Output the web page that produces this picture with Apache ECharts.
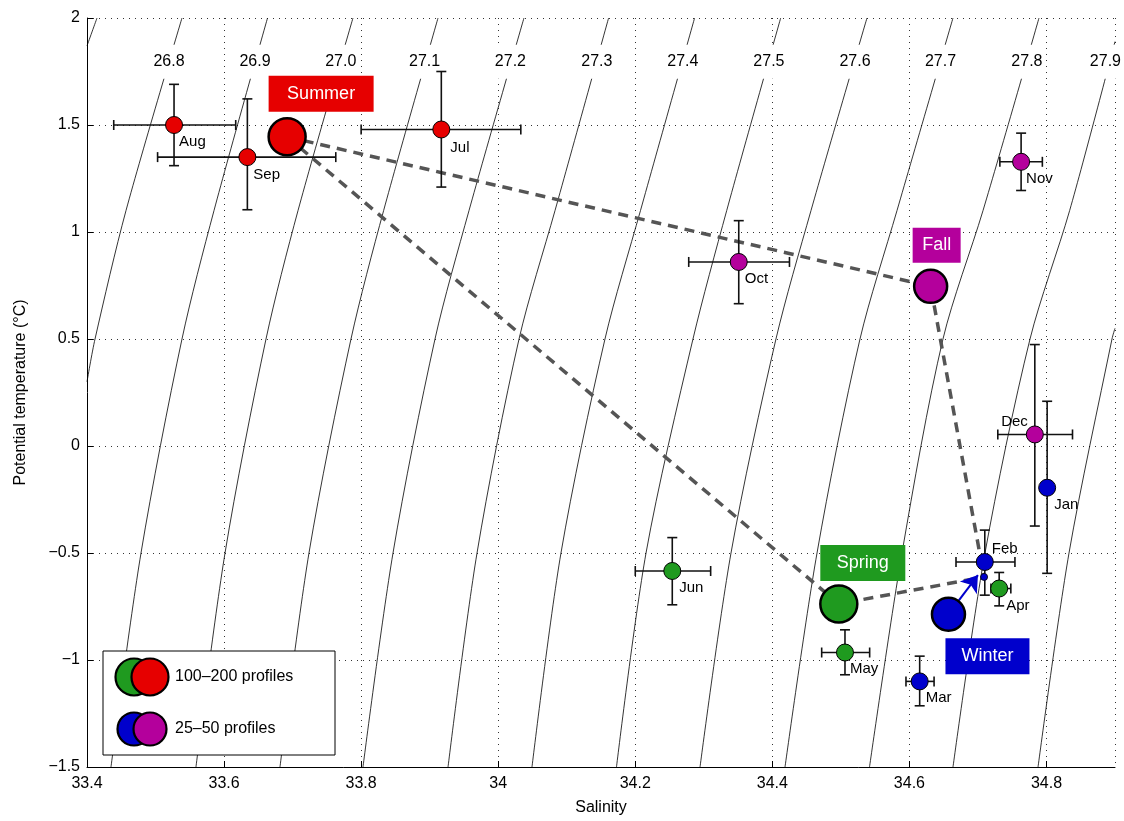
<!DOCTYPE html>
<html><head><meta charset="utf-8">
<script src="https://cdn.jsdelivr.net/npm/echarts@6/dist/echarts.min.js"></script>
<style>html,body{margin:0;padding:0;background:#fff}#c{width:1124px;height:821px}</style>
</head><body><div id="c"></div>
<script>
// ---------- data ----------
const months = ['Jan','Feb','Mar','Apr','May','Jun','Jul','Aug','Sep','Oct','Nov','Dec'];
const monthSeason = ['Winter','Winter','Winter','Spring','Spring','Spring','Summer','Summer','Summer','Fall','Fall','Fall'];
const monthS = [34.801, 34.710, 34.615, 34.731, 34.506, 34.254, 33.917, 33.527, 33.634, 34.351, 34.763, 34.783];
const monthT = [-0.195, -0.542, -1.100, -0.666, -0.965, -0.584, 1.479, 1.500, 1.350, 0.860, 1.328, 0.054];
const monthSLo = [null, 34.668, 34.595, 34.719, 34.472, 34.200, 33.800, 33.439, 33.503, 34.278, 34.732, 34.729];
const monthSHi = [null, 34.754, 34.636, 34.748, 34.542, 34.310, 34.033, 33.617, 33.763, 34.425, 34.794, 34.838];
const monthTLo = [-0.595, -0.697, -1.214, -0.747, -1.069, -0.742, 1.21, 1.31, 1.104, 0.665, 1.194, -0.374];
const monthTHi = [0.209, -0.393, -0.982, -0.591, -0.859, -0.428, 1.75, 1.69, 1.622, 1.053, 1.462, 0.474];

const seasons = ['Summer','Fall','Winter','Spring'];
const seasonS = [33.692, 34.631, 34.657, 34.497];
const seasonT = [1.445, 0.746, -0.786, -0.738];
const seasonGroup = ['100–200 profiles','25–50 profiles','25–50 profiles','100–200 profiles'];
const winterTrue = [34.709, -0.612];
const winterArrowTip = [34.700, -0.603];

// sigma-theta isopycnals, [salinity, temperature] points
const iso267 = [[33.4146, 2.0], [33.4, 1.87]];
const iso268 = [[33.5386, 2.0], [33.4569, 1.1], [33.4117, 0.5], [33.4, 0.3]];
const iso269 = [[33.6634, 2.0], [33.5853, 1.1], [33.5386, 0.5], [33.4788, -0.5], [33.4350, -1.5]];
const iso270 = [[33.7881, 2.0], [33.7079, 1.1], [33.6612, 0.5], [33.6014, -0.5], [33.5590, -1.5]];
const iso271 = [[33.9122, 2.0], [33.8328, 1.1], [33.7852, 0.5], [33.7239, -0.5], [33.6816, -1.5]];
const iso272 = [[34.0376, 2.0], [33.9574, 1.1], [33.9078, 0.5], [33.8465, -0.5], [33.8027, -1.5]];
const iso273 = [[34.1611, 2.0], [34.0829, 1.1], [34.0304, 0.5], [33.9691, -0.5], [33.9268, -1.5]];
const iso274 = [[34.2866, 2.0], [34.2076, 1.1], [34.1558, 0.5], [34.0916, -0.5], [34.0493, -1.5]];
const iso275 = [[34.4122, 2.0], [34.3334, 1.1], [34.2842, 0.5], [34.2157, -0.5], [34.1726, -1.5]];
const iso276 = [[34.5381, 2.0], [34.4564, 1.1], [34.4053, 0.5], [34.3397, -0.5], [34.2945, -1.5]];
const iso277 = [[34.6636, 2.0], [34.5819, 1.1], [34.5279, 0.5], [34.4652, -0.5], [34.4185, -1.5]];
const iso278 = [[34.7891, 2.0], [34.7074, 1.1], [34.6490, 0.5], [34.5892, -0.5], [34.5418, -1.5]];
const iso279 = [[34.9, 1.89], [34.8338, 1.1], [34.7760, 0.5], [34.7103, -0.5], [34.6636, -1.5]];
const iso280 = [[34.9, 0.55], [34.8956, 0.5], [34.8329, -0.5], [34.7877, -1.5]];
const isopycnals = [iso267, iso268, iso269, iso270, iso271, iso272, iso273, iso274, iso275, iso276, iso277, iso278, iso279, iso280];

const isoLabels = ['26.8','26.9','27.0','27.1','27.2','27.3','27.4','27.5','27.6','27.7','27.8','27.9'];
const isoLabelS = [33.5196, 33.6451, 33.7702, 33.8926, 34.0178, 34.1439, 34.2694, 34.3950, 34.5206, 34.6454, 34.7715, 34.8860];
const isoLabelT = [1.795, 1.795, 1.795, 1.795, 1.795, 1.795, 1.795, 1.795, 1.795, 1.795, 1.795, 1.795];

// ---------- styles ----------
const FONT = "'Liberation Sans', Arial, Helvetica, sans-serif";
const seasonColor = {Summer:'#e60000', Fall:'#b4009c', Winter:'#0000cc', Spring:'#1f9a1f'};
const monthLabelStyle = {
  Jan:{offset:[7,17],align:'left'}, Feb:{offset:[7,-13],align:'left'}, Mar:{offset:[6,16],align:'left'},
  Apr:{offset:[7,17],align:'left'}, May:{offset:[5,16],align:'left'}, Jun:{offset:[7,17],align:'left'},
  Jul:{offset:[9,18],align:'left'}, Aug:{offset:[5,17],align:'left'}, Sep:{offset:[6,18],align:'left'},
  Oct:{offset:[6,17],align:'left'}, Nov:{offset:[5,17],align:'left'}, Dec:{offset:[-7,-13],align:'right'}
};
const seasonLabelStyle = {
  Summer:{offset:[34,-43], w:105, h:36}, Fall:{offset:[6,-41], w:48, h:35},
  Spring:{offset:[24,-41], w:85, h:36}, Winter:{offset:[39,42], w:84, h:36}
};
const seasonSize = {'100–200 profiles':37, '25–50 profiles':33};

// ---------- series ----------
const series = [];
isopycnals.forEach(pts => {
  series.push({type:'line', data:pts, symbol:'none', smooth:0.3, silent:true, z:1,
    lineStyle:{color:'#000', width:0.8}, animation:false});
});
series.push({type:'scatter', silent:true, z:2, symbolSize:1, itemStyle:{color:'rgba(255,255,255,0)', opacity:1},
  data: isoLabels.map((l,i)=>({name:l, value:[isoLabelS[i], isoLabelT[i]]})),
  label:{show:true, position:'inside', formatter:'{b}', color:'#000', fontSize:16, fontFamily:FONT,
    backgroundColor:'#fff', padding:[9,1]}, animation:false});

const idx = n => seasons.indexOf(n);
const pt = n => [seasonS[idx(n)], seasonT[idx(n)]];
const dashStyle = {color:'#555', width:3.5, type:[10,7]};
series.push({type:'line', data:[pt('Summer'), pt('Fall'), winterTrue], symbol:'none', silent:true, z:3, lineStyle:dashStyle, animation:false});
series.push({type:'line', data:[pt('Summer'), pt('Spring'), winterTrue], symbol:'none', silent:true, z:3, lineStyle:dashStyle, animation:false});

// arrow from displaced winter circle to true winter position
series.push({type:'line', data:[], z:4, animation:false,
  markLine:{silent:true, animation:false, symbol:['none','arrow'], symbolSize:16,
    lineStyle:{color:'#0000cc', width:2, type:'solid', opacity:1}, itemStyle:{color:'#0000cc'}, label:{show:false},
    data:[[{coord:pt('Winter')},{coord:winterArrowTip}]]}});

// error bars
series.push({type:'custom', z:5, silent:true, animation:false,
  data: months.map((m,i)=>[monthS[i], monthT[i], monthSLo[i]==null?NaN:monthSLo[i], monthSHi[i]==null?NaN:monthSHi[i], monthTLo[i], monthTHi[i]]),
  encode:{x:0, y:1},
  renderItem:function(params, api){
    const s=api.value(0), t=api.value(1), s0=api.value(2), s1=api.value(3), t0=api.value(4), t1=api.value(5);
    const st={stroke:'#111', lineWidth:1.6};
    const cap=5, ch=[];
    const L=(x1,y1,x2,y2)=>ch.push({type:'line', shape:{x1,y1,x2,y2}, style:st});
    if(!isNaN(s0) && !isNaN(s1)){
      const a=api.coord([s0,t]), b=api.coord([s1,t]);
      L(a[0],a[1],b[0],b[1]); L(a[0],a[1]-cap,a[0],a[1]+cap); L(b[0],b[1]-cap,b[0],b[1]+cap);
    }
    if(!isNaN(t0) && !isNaN(t1)){
      const a=api.coord([s,t0]), b=api.coord([s,t1]);
      L(a[0],a[1],b[0],b[1]); L(a[0]-cap,a[1],a[0]+cap,a[1]); L(b[0]-cap,b[1],b[0]+cap,b[1]);
    }
    return {type:'group', children:ch};
  }});

// monthly points
series.push({type:'scatter', z:6, silent:true, animation:false, symbolSize:17,
  data: months.map((m,i)=>({name:m, value:[monthS[i], monthT[i]],
    itemStyle:{color:seasonColor[monthSeason[i]], borderColor:'#000', borderWidth:1, opacity:1},
    label:{show:true, position:'inside', formatter:'{b}', color:'#000', fontSize:15, fontFamily:FONT,
      align:monthLabelStyle[m].align, verticalAlign:'middle', offset:monthLabelStyle[m].offset}}))});

// seasonal circles
series.push({type:'scatter', z:7, silent:true, animation:false,
  data: seasons.map((n,i)=>{const ls=seasonLabelStyle[n]; return {name:n, value:[seasonS[i], seasonT[i]],
    symbolSize:seasonSize[seasonGroup[i]],
    itemStyle:{color:seasonColor[n], borderColor:'#000', borderWidth:2.5, opacity:1},
    label:{show:true, position:'inside', formatter:'{b}', color:'#fff', fontSize:18, fontFamily:FONT,
      backgroundColor:seasonColor[n], width:ls.w, height:ls.h, lineHeight:ls.h, align:'center', verticalAlign:'middle',
      offset:ls.offset}};})});

// true winter position dot
series.push({type:'scatter', z:8, silent:true, animation:false, symbolSize:7,
  data:[winterTrue], itemStyle:{color:seasonColor.Winter, borderColor:'#000', borderWidth:0.8, opacity:1}});

// ---------- legend (drawn as graphic) ----------
const legendRows = ['100–200 profiles','25–50 profiles'];
const legendPairs = [['Spring','Summer'],['Winter','Fall']];
const graphic = [{type:'rect', z:100, shape:{x:103,y:651,width:232,height:104}, style:{fill:'#fff', stroke:'#000', lineWidth:1}}];
legendRows.forEach((r,k)=>{
  const cy = k===0 ? 677 : 729;
  const rad = seasonSize[r]/2;
  graphic.push({type:'circle', z:101, shape:{cx:134, cy, r:rad}, style:{fill:seasonColor[legendPairs[k][0]], stroke:'#000', lineWidth:2.2}});
  graphic.push({type:'circle', z:102, shape:{cx:150, cy, r:rad}, style:{fill:seasonColor[legendPairs[k][1]], stroke:'#000', lineWidth:2.2}});
  graphic.push({type:'text', z:103, x:175, y:cy, style:{text:r, fill:'#000', font:'16px '+FONT, verticalAlign:'middle', align:'left'}});
});

const gridLine = {show:true, lineStyle:{color:'#333', width:1, type:[1,5]}};
const chart = echarts.init(document.getElementById('c'), null, {renderer:'canvas'});
chart.setOption({
  animation:false,
  backgroundColor:'#fff',
  grid:{left:87, right:9, top:18, bottom:53},
  xAxis:{type:'value', min:33.4, max:34.9, interval:0.2,
    name:'Salinity', nameLocation:'middle', nameGap:33, nameTextStyle:{fontSize:16, color:'#000', fontFamily:FONT},
    axisLine:{show:true, onZero:false, lineStyle:{color:'#000', width:1}},
    axisTick:{show:true, inside:true, length:6, lineStyle:{color:'#000'}},
    axisLabel:{fontSize:16, color:'#000', fontFamily:FONT, margin:9, showMaxLabel:false},
    splitLine:gridLine},
  yAxis:{type:'value', min:-1.5, max:2, interval:0.5,
    name:'Potential temperature (°C)', nameLocation:'middle', nameGap:58, nameTextStyle:{fontSize:16, color:'#000', fontFamily:FONT},
    axisLine:{show:true, onZero:false, lineStyle:{color:'#000', width:1}},
    axisTick:{show:true, inside:true, length:6, lineStyle:{color:'#000'}},
    axisLabel:{fontSize:16, color:'#000', fontFamily:FONT, margin:7, formatter:v=>String(v).replace('-','−')},
    splitLine:gridLine},
  graphic: graphic,
  series: series
});
</script></body></html>
